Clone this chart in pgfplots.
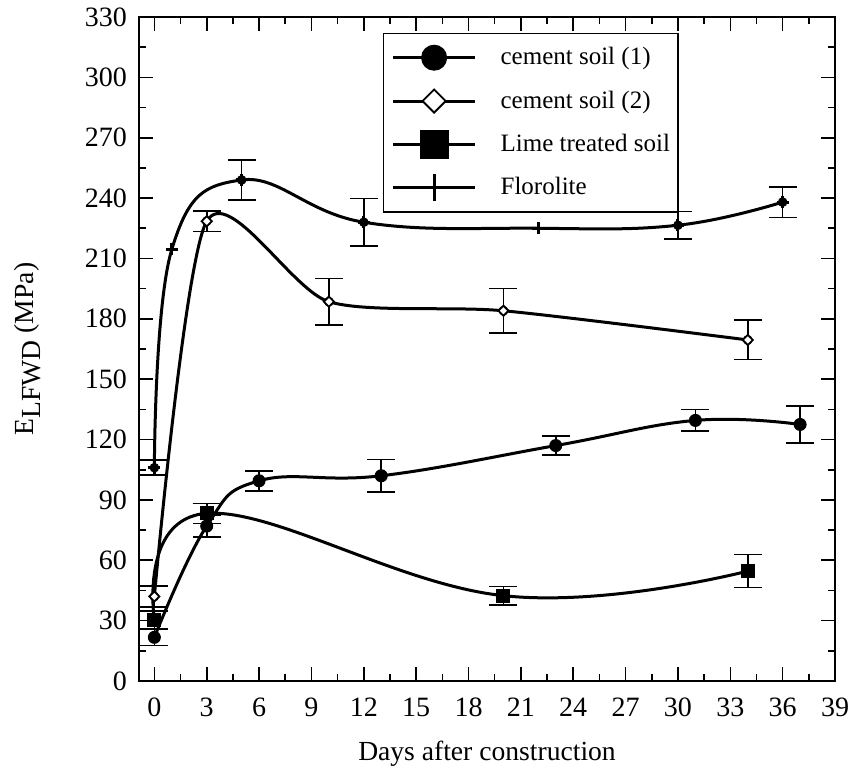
\documentclass[border=0pt]{standalone}
\usepackage{pgfplots}
\pgfplotsset{compat=1.18}
\usepackage{pgfplotstable}
\usepackage{fontspec}
\setmainfont{Liberation Serif}

\pgfplotstableread{
x y e
0 21.7 4
3 77 5.5
6 99.5 5
13 102 8
23 117 4.7
31 129.5 5.4
37 127.5 9.3
}\cementA
\pgfplotstableread{
x y e
0 42 5.2
3 228.5 5.2
10 188.5 11.5
20 184 11
34 169.5 9.8
}\cementB
\pgfplotstableread{
x y e
0 30.3 4.5
3 83.3 5
20 42.4 4.5
34 54.6 8.2
}\lime
\pgfplotstableread{
x y
0 106
1 214.5
5 249
12 228
22 225
30 226.5
36 238
}\floro
\pgfplotstableread{
x y e
0 106 3.7
5 249 10
12 228 11.7
30 226.5 6.8
36 238 7.6
}\floroerr

\pgfplotsset{
  biglegend/.style={legend image code/.code={%
    \path (-2pt,0pt) (51pt,0pt);
    \draw[mark repeat=2,mark phase=2,##1,mark size=#1] plot coordinates {(0pt,0pt) (20.5pt,0pt) (41pt,0pt)};}},
  errplot/.style={only marks, mark=none, forget plot, black, line width=0.8pt,
    error bars/.cd, y dir=both, y explicit,
    error bar style={line width=0.8pt},
    error mark options={rotate=90, line width=0.8pt, mark size=7pt}},
}

\begin{document}
\begin{tikzpicture}
\useasboundingbox (0,0) rectangle (427pt,384.5pt);
\begin{axis}[
  at={(69.5pt,44pt)}, anchor=south west,
  scale only axis, width=348pt, height=332pt,
  xmin=-0.88, xmax=39, ymin=0, ymax=330,
  xtick={0,3,...,39}, ytick={0,30,...,330},
  minor x tick num=1, minor y tick num=1,
  tick align=inside, tick pos=both,
  major tick length=7pt, minor tick length=3.5pt,
  every tick/.style={black, line width=0.8pt},
  axis line style={line width=0.9pt},
  /pgf/number format/assume math mode=true,
  tick label style={font=\fontsize{14}{16}\selectfont},
  xticklabel style={yshift=-5pt},
  yticklabel style={xshift=-2.5pt},
  label style={font=\fontsize{13.8}{16}\selectfont},
  xlabel={Days after construction},
  xlabel style={at={(axis description cs:0.5,-0.119)}, anchor=base},
  ylabel={E\raisebox{-3.5pt}{LFWD} (MPa)},
  ylabel style={at={(axis description cs:-0.16,0.5)}, anchor=center, rotate=0},
  legend style={at={(0.3506,0.976)}, anchor=north west, draw=black, line width=0.6pt,
    font=\fontsize{12.5}{15}\selectfont, row sep=7.5pt, inner xsep=2pt, inner ysep=5pt,
    cells={anchor=west}},
  legend cell align=left,
]
\addplot[errplot] table[x=x,y=y,y error=e] {\cementA};
\addplot[errplot] table[x=x,y=y,y error=e] {\cementB};
\addplot[errplot] table[x=x,y=y,y error=e] {\lime};
\addplot[errplot] table[x=x,y=y,y error=e] {\floroerr};

\addplot[black, line width=1.5pt, smooth, tension=0.7, mark=*, mark size=3pt,
  mark options={solid, fill=black, line width=0.5pt}, biglegend=6.25pt]
  table[x=x,y=y] {\cementA};
\addlegendentry{cement soil (1)}
\addplot[black, line width=1.5pt, smooth, tension=0.45, mark=square*, mark size=1.8pt,
  mark options={solid, fill=white, rotate=45, line width=0.9pt}, biglegend=4.1pt]
  table[x=x,y=y] {\cementB};
\addlegendentry{cement soil (2)}
\addplot[black, line width=1.5pt, smooth, tension=0.7, mark=square*, mark size=3.25pt,
  mark options={solid, fill=black, line width=0.5pt}, biglegend=7pt]
  table[x=x,y=y] {\lime};
\addlegendentry{Lime treated soil}
\addplot[black, line width=1.5pt, smooth, tension=0.7, mark=+, mark size=3pt,
  mark options={solid, line width=1.5pt}, biglegend=6.75pt]
  table[x=x,y=y] {\floro};
\addlegendentry{Florolite}
\end{axis}
\end{tikzpicture}
\end{document}
